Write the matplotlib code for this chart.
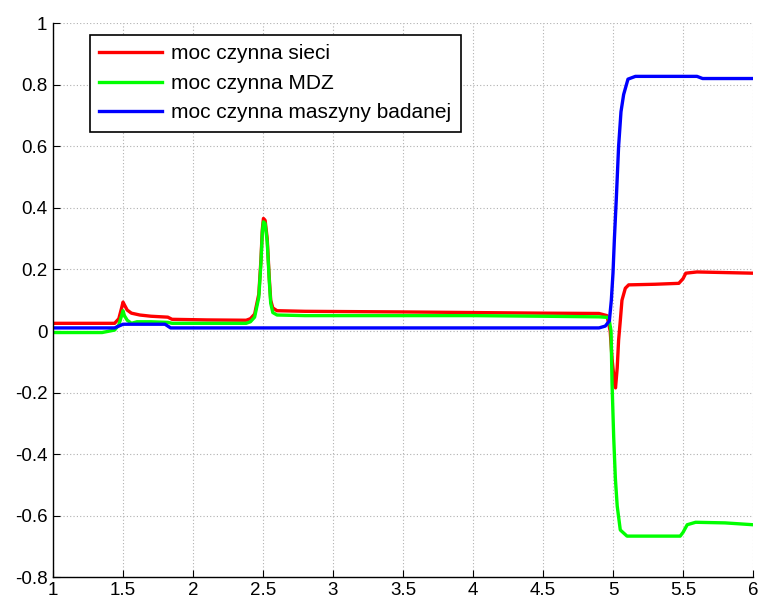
import matplotlib
matplotlib.use("Agg")
import matplotlib.pyplot as plt

# ─── values ───────────────────────────────────────────────────────────────────

t_sieci = [1.0, 1.44, 1.47, 1.49, 1.50, 1.51, 1.53, 1.56, 1.62, 1.70, 1.82,
           1.85, 2.10, 2.38, 2.41, 2.44, 2.47, 2.485, 2.495, 2.503, 2.515,
           2.53, 2.545, 2.555, 2.57, 2.60, 2.80, 3.50, 4.00, 4.50, 4.90,
           4.957, 4.98, 4.993, 5.012, 5.018, 5.03, 5.04, 5.052, 5.064, 5.088,
           5.112, 5.30, 5.47, 5.50, 5.52, 5.60, 5.80, 6.0]
p_sieci = [0.025, 0.025, 0.04, 0.075, 0.094, 0.085, 0.068, 0.058, 0.052, 0.048,
           0.045, 0.038, 0.036, 0.035, 0.04, 0.055, 0.12, 0.23, 0.33, 0.366,
           0.36, 0.30, 0.17, 0.10, 0.075, 0.066, 0.064, 0.062, 0.06, 0.058,
           0.057, 0.05, 0.0, -0.09, -0.175, -0.185, -0.12, -0.03, 0.033, 0.10,
           0.139, 0.15, 0.152, 0.155, 0.17, 0.188, 0.192, 0.19, 0.188]

t_mdz = [1.0, 1.35, 1.44, 1.47, 1.49, 1.50, 1.51, 1.53, 1.56, 1.60, 1.70,
         1.82, 1.85, 2.10, 2.38, 2.41, 2.44, 2.47, 2.485, 2.495, 2.503, 2.515,
         2.53, 2.545, 2.555, 2.57, 2.60, 2.80, 3.50, 4.00, 4.50, 4.90, 4.97,
         4.986, 4.993, 5.005, 5.017, 5.03, 5.052, 5.10, 5.30, 5.48, 5.50,
         5.53, 5.59, 5.80, 6.0]
p_mdz = [-0.005, -0.005, 0.003, 0.02, 0.05, 0.066, 0.05, 0.035, 0.025, 0.03,
         0.03, 0.028, 0.025, 0.025, 0.025, 0.03, 0.045, 0.11, 0.22, 0.32,
         0.355, 0.35, 0.29, 0.16, 0.09, 0.06, 0.052, 0.05, 0.05, 0.05, 0.048,
         0.046, 0.044, 0.0, -0.168, -0.346, -0.48, -0.569, -0.647, -0.667,
         -0.667, -0.667, -0.655, -0.63, -0.622, -0.624, -0.63]

t_badanej = [1.0, 1.44, 1.50, 1.80, 1.84, 4.90, 4.945, 4.974, 4.988, 5.0,
             5.01, 5.024, 5.04, 5.057, 5.076, 5.107, 5.16, 5.60, 5.64, 6.0]
p_badanej = [0.01, 0.01, 0.022, 0.022, 0.01, 0.01, 0.016, 0.033, 0.10, 0.189,
             0.30, 0.434, 0.60, 0.713, 0.769, 0.819, 0.828, 0.828, 0.821, 0.821]

labels = ["moc czynna sieci", "moc czynna MDZ", "moc czynna maszyny badanej"]
x_ticks = [1, 1.5, 2, 2.5, 3, 3.5, 4, 4.5, 5, 5.5, 6]
y_ticks = [-0.8, -0.6, -0.4, -0.2, 0, 0.2, 0.4, 0.6, 0.8, 1]

# ─── plot ─────────────────────────────────────────────────────────────────────

plt.rcParams["font.family"] = ["Liberation Sans", "DejaVu Sans"]

fig = plt.figure(figsize=(7.64, 5.99), dpi=100)
ax = fig.add_axes([0.0694, 0.0367, 0.9162, 0.9241])

lw = 2.4
ax.plot(t_sieci, p_sieci, color="#ff0000", lw=lw, label=labels[0])
ax.plot(t_mdz, p_mdz, color="#00ff00", lw=lw, label=labels[1])
ax.plot(t_badanej, p_badanej, color="#0000ff", lw=lw, label=labels[2])

ax.set_xlim(1, 6)
ax.set_ylim(-0.8, 1)
ax.set_xticks(x_ticks)
ax.set_xticklabels([f"{v:g}" for v in x_ticks])
ax.set_yticks(y_ticks)
ax.set_yticklabels([f"{v:g}" for v in y_ticks])
ax.tick_params(direction="in", length=5, width=0.8, labelsize=13.5,
               colors="black")
ax.tick_params(axis="x", pad=3.5)
ax.tick_params(axis="y", pad=4)
ax.grid(True, color="#b0b0b0", linestyle=(0, (1, 2)), lw=0.8)
ax.spines["top"].set_visible(False)
ax.spines["right"].set_visible(False)
for s in ("left", "bottom"):
    ax.spines[s].set_linewidth(1.0)

leg = ax.legend(loc="upper left", bbox_to_anchor=(0.053, 0.979),
                borderaxespad=0, fontsize=15, handlelength=3.0,
                handletextpad=0.45, labelspacing=0.5, borderpad=0.45,
                fancybox=False, framealpha=1, edgecolor="black")
leg.get_frame().set_linewidth(1.2)

fig.savefig("out.png", dpi=100)
